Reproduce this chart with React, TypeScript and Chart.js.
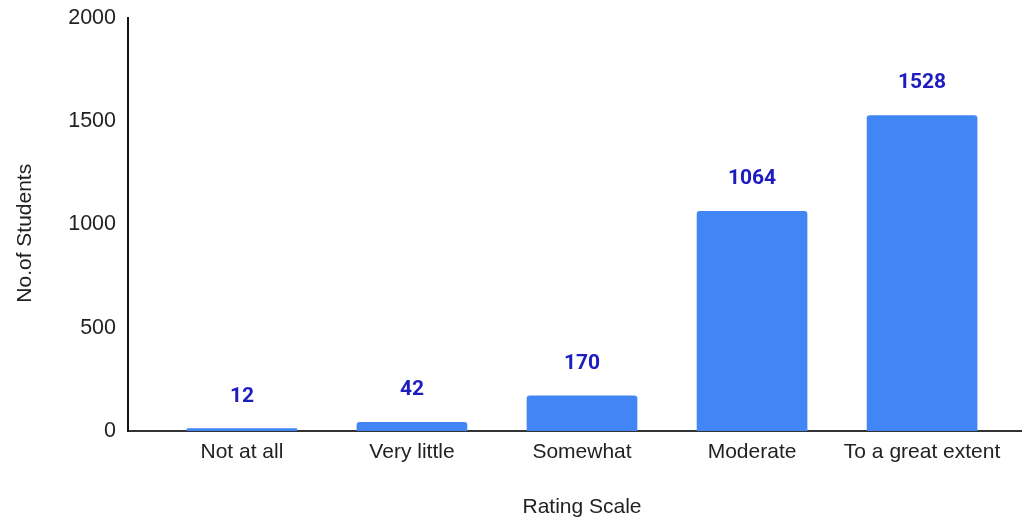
import React, { useEffect, useRef } from "react";
import { Chart, registerables } from "chart.js";

Chart.register(...registerables);

const categories = ["Not at all", "Very little", "Somewhat", "Moderate", "To a great extent"];
const students = [12, 42, 170, 1064, 1528];
const yTicks = [0, 500, 1000, 1500, 2000];

const BAR_COLOR = "#4285F4";
const LABEL_COLOR = "#1c1cbf";
const TEXT_COLOR = "#222222";

const valueLabels = {
  id: "valueLabels",
  afterDatasetsDraw(chart: any) {
    const ctx = chart.ctx;
    const meta = chart.getDatasetMeta(0);
    ctx.save();
    ctx.font = "bold 21px Roboto";
    ctx.fillStyle = LABEL_COLOR;
    ctx.textAlign = "center";
    ctx.textBaseline = "alphabetic";
    meta.data.forEach((bar: any, i: number) => {
      ctx.fillText(String(students[i]), bar.x, bar.y - 27);
    });
    ctx.restore();
  },
};

export default function App() {
  const ref = useRef<HTMLCanvasElement | null>(null);

  useEffect(() => {
    if (!ref.current) return;
    const chart = new Chart(ref.current, {
      type: "bar",
      data: {
        datasets: [
          {
            data: students.map((v, i) => ({ x: i, y: v })),
            backgroundColor: BAR_COLOR,
            barThickness: 110,
            borderRadius: 3,
            borderSkipped: "bottom",
          },
        ],
      },
      options: {
        responsive: false,
        animation: false,
        layout: { padding: { top: 18, right: 0, bottom: 0, left: 0 } },
        plugins: { legend: { display: false }, tooltip: { enabled: false } },
        scales: {
          x: {
            type: "linear",
            offset: false,
            min: -0.67,
            max: 4.67,
            grid: { display: false, drawTicks: false, offset: false },
            border: { display: true, color: "#333333", width: 2 },
            afterBuildTicks: (scale: any) => {
              scale.ticks = categories.map((_, i) => ({ value: i }));
            },
            afterFit: (scale: any) => {
              scale.height = 87;
              scale.paddingLeft = 0;
              scale.paddingRight = 0;
            },
            ticks: {
              autoSkip: false,
              maxRotation: 0,
              padding: 9,
              color: TEXT_COLOR,
              font: { family: "Liberation Sans", size: 21 },
              callback: (v: any) => categories[v as number] ?? "",
            },
            title: {
              display: true,
              text: "Rating Scale",
              color: TEXT_COLOR,
              font: { family: "Liberation Sans", size: 21 },
              padding: { top: 0, bottom: -2 },
            },
          },
          y: {
            min: 0,
            max: 2000,
            grid: { display: false, drawTicks: false },
            border: { display: true, color: "#111111", width: 2 },
            afterBuildTicks: (scale: any) => {
              scale.ticks = yTicks.map((v) => ({ value: v }));
            },
            afterFit: (scale: any) => {
              scale.width = 128;
              scale.paddingTop = 0;
              scale.paddingBottom = 0;
            },
            ticks: {
              padding: 12,
              color: TEXT_COLOR,
              font: { family: "Liberation Sans", size: 21.5 },
              callback: (v: any) => String(v),
            },
            title: {
              display: true,
              text: "No.of Students   ",
              color: TEXT_COLOR,
              font: { family: "Liberation Sans", size: 21 },
              padding: { top: 13, bottom: 0 },
            },
          },
        },
      },
      plugins: [valueLabels],
    });
    return () => chart.destroy();
  }, []);

  return (
    <div
      style={{
        position: "absolute",
        left: 0,
        top: 0,
        width: 1022,
        height: 518,
        overflow: "hidden",
        background: "#ffffff",
      }}
    >
      <canvas ref={ref} width={1036} height={518} style={{ width: 1036, height: 518, display: "block" }} />
    </div>
  );
}
